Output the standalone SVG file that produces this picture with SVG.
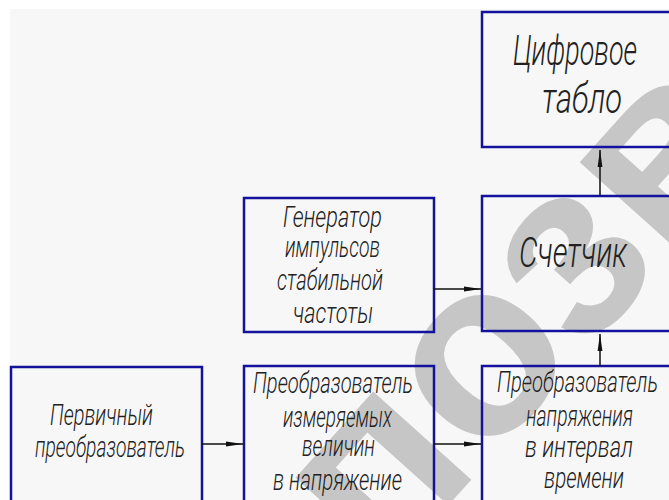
<svg xmlns="http://www.w3.org/2000/svg" width="669" height="500" viewBox="0 0 669 500">
<style>
.box{fill:none;stroke:#12129c;stroke-width:2.5}
.t{font-family:Roboto,"Liberation Sans",sans-serif;font-style:italic;font-weight:300;font-size:30px;fill:#222}
.big{font-size:42px}
.wire{stroke:#111;stroke-width:1.5;fill:none}
.wm{font-family:"Liberation Sans",Arial,sans-serif;font-weight:bold;font-size:250px;fill:#c6c6c6}
</style>
<defs>
<marker id="ah" viewBox="0 0 17 6" refX="17" refY="3" markerWidth="17" markerHeight="6" markerUnits="userSpaceOnUse" orient="auto">
<path d="M0,0.6 L17,3 L0,5.4 z" fill="#111"/>
</marker>
</defs>
<rect x="0" y="0" width="669" height="500" fill="#fff"/>
<rect x="10" y="9" width="659" height="491" fill="#f7f7f7"/>
<text class="wm" transform="translate(382,579) rotate(-48)">позв</text>
<g id="display">
<rect class="box" x="482" y="12" width="200" height="135"/>
<text class="t big" x="513" y="65" textLength="124" lengthAdjust="spacingAndGlyphs">Цифровое</text>
<text class="t big" x="542" y="113" textLength="80" lengthAdjust="spacingAndGlyphs">табло</text>
</g>
<g id="counter">
<rect class="box" x="482" y="196" width="200" height="135"/>
<text class="t big" x="519" y="267" textLength="108" lengthAdjust="spacingAndGlyphs">Счетчик</text>
</g>
<g id="generator">
<rect class="box" x="244" y="198" width="190" height="134"/>
<text class="t" x="283" y="227" textLength="99" lengthAdjust="spacingAndGlyphs">Генератор</text>
<text class="t" x="285" y="257" textLength="95" lengthAdjust="spacingAndGlyphs">импульсов</text>
<text class="t" x="277" y="290" textLength="106" lengthAdjust="spacingAndGlyphs">стабильной</text>
<text class="t" x="293" y="323" textLength="80" lengthAdjust="spacingAndGlyphs">частоты</text>
</g>
<g id="primary">
<rect class="box" x="11" y="367" width="191" height="150"/>
<text class="t" x="50" y="425" textLength="103" lengthAdjust="spacingAndGlyphs">Первичный</text>
<text class="t" x="35" y="457" textLength="150" lengthAdjust="spacingAndGlyphs">преобразователь</text>
</g>
<g id="converter1">
<rect class="box" x="244" y="366" width="190" height="150"/>
<text class="t" x="253" y="393" textLength="160" lengthAdjust="spacingAndGlyphs">Преобразователь</text>
<text class="t" x="283" y="427" textLength="109" lengthAdjust="spacingAndGlyphs">измеряемых</text>
<text class="t" x="302" y="456" textLength="73" lengthAdjust="spacingAndGlyphs">величин</text>
<text class="t" x="273" y="490" textLength="129" lengthAdjust="spacingAndGlyphs">в напряжение</text>
</g>
<g id="converter2">
<rect class="box" x="482" y="366" width="200" height="150"/>
<text class="t" x="497" y="392" textLength="161" lengthAdjust="spacingAndGlyphs">Преобразователь</text>
<text class="t" x="526" y="426" textLength="107" lengthAdjust="spacingAndGlyphs">напряжения</text>
<text class="t" x="525" y="457" textLength="108" lengthAdjust="spacingAndGlyphs">в интервал</text>
<text class="t" x="544" y="488" textLength="80" lengthAdjust="spacingAndGlyphs">времени</text>
</g>
<g id="connectors">
<line class="wire" x1="600" y1="195" x2="600" y2="150" marker-end="url(#ah)"/>
<line class="wire" x1="600" y1="366" x2="600" y2="334" marker-end="url(#ah)"/>
<line class="wire" x1="434" y1="289" x2="481" y2="289" marker-end="url(#ah)"/>
<line class="wire" x1="202" y1="444" x2="243" y2="444" marker-end="url(#ah)"/>
<line class="wire" x1="434" y1="444" x2="481" y2="444" marker-end="url(#ah)"/>
</g>
</svg>
